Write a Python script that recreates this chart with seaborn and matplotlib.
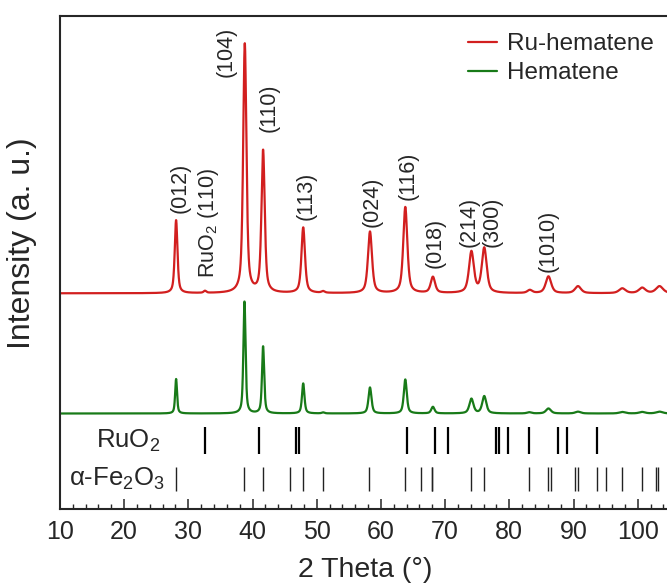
import numpy as np
import pandas as pd
import matplotlib
matplotlib.use("Agg")
import matplotlib.pyplot as plt
import seaborn as sns
from matplotlib.ticker import MultipleLocator, FixedLocator

# ---------------- data ----------------
# Ru-hematene pattern (peak centre in 2θ, height above baseline, FWHM)
ru_pos = [28.1, 32.6, 38.8, 41.65, 47.9, 51.0, 58.3, 63.8, 68.1, 74.1, 76.1,
          83.2, 86.1, 90.7, 97.6, 100.7, 103.4]
ru_height = [73, 2, 249, 142, 65.5, 1.6, 61.5, 86, 16, 41, 44.7,
             3.0, 16.8, 7.0, 4.8, 5.4, 7.0]
ru_fwhm = [0.5, 0.5, 0.6, 0.6, 0.65, 0.6, 0.75, 0.75, 0.8, 0.9, 0.9,
           0.9, 1.0, 1.1, 1.2, 1.2, 1.3]
ru_baseline = 215.7

# Hematene pattern
he_pos = [28.1, 38.75, 41.65, 47.9, 51.0, 58.3, 63.8, 68.1, 74.1, 76.1,
          83.1, 86.1, 90.7, 97.6, 100.7, 103.4]
he_height = [34.5, 112, 67, 30, 1.0, 26, 34, 6.6, 14.6, 17.2,
             1.2, 5.0, 1.8, 1.5, 1.5, 1.8]
he_fwhm = [0.35, 0.4, 0.4, 0.45, 0.5, 0.55, 0.55, 0.6, 0.75, 0.75,
           0.8, 0.9, 1.0, 1.1, 1.1, 1.2]
he_baseline = 95.5

# Reference reflections
ruo2_ref = [32.6, 41.0, 46.7, 47.2, 64.1, 68.4, 70.5, 78.0, 78.4, 79.8,
            83.1, 87.6, 89.0, 93.6]
fe2o3_ref = [28.06, 38.65, 41.56, 45.9, 47.8, 51.0, 58.1, 63.7, 66.3, 67.9,
             68.0, 74.0, 76.0, 83.1, 86.1, 86.45, 90.3, 90.65, 93.7, 95.0,
             97.6, 100.7, 102.8, 103.2]

# Peak labels (text, 2θ of label centre, label bottom)
peak_labels = ["(012)", "RuO$_2$ (110)", "(104)", "(110)", "(113)", "(024)",
               "(116)", "(018)", "(214)", "(300)", "(1010)"]
label_x = [28.8, 33.2, 35.95, 42.6, 48.3, 58.6, 64.2, 68.5, 73.7, 77.3, 86.1]
label_y = [295.7, 231, 432, 377.3, 289, 281.7, 309, 240.7, 262.3, 262.3, 237.3]

x_ticks = [10, 20, 30, 40, 50, 60, 70, 80, 90, 100]
series_names = ["Ru-hematene", "Hematene"]
series_colors = ["#d21f1f", "#187a18"]


def profile(x, pos, height, fwhm, base, eta=0.6):
    y = np.full_like(x, base, dtype=float)
    for p, h, w in zip(pos, height, fwhm):
        g = w / 2.0
        lor = g * g / ((x - p) ** 2 + g * g)
        sig = w / 2.3548
        gau = np.exp(-((x - p) ** 2) / (2 * sig * sig))
        y += h * (eta * lor + (1 - eta) * gau)
    return y


grid = np.linspace(10, 110, 5001)
df = pd.concat([
    pd.DataFrame({"two_theta": grid,
                  "intensity": profile(grid, ru_pos, ru_height, ru_fwhm, ru_baseline),
                  "sample": series_names[0]}),
    pd.DataFrame({"two_theta": grid,
                  "intensity": profile(grid, he_pos, he_height, he_fwhm, he_baseline),
                  "sample": series_names[1]}),
])

# ---------------- styling ----------------
sns.set_style("ticks")
plt.rcParams["font.family"] = ["Liberation Sans", "DejaVu Sans"]
plt.rcParams["mathtext.fontset"] = "custom"
plt.rcParams["mathtext.rm"] = "Liberation Sans"
plt.rcParams["mathtext.it"] = "Liberation Sans:italic"

fig = plt.figure(figsize=(6.67, 5.85), dpi=100)
ax = fig.add_axes([59.9 / 667, (585 - 509) / 585, 640.1 / 667, 493 / 585])

sns.lineplot(data=df, x="two_theta", y="intensity", hue="sample",
             hue_order=series_names, palette=series_colors,
             estimator=None, sort=False, linewidth=1.6, ax=ax)

ax.vlines(ruo2_ref, 55, 81.7, color="black", linewidth=1.6)
ax.vlines(fe2o3_ref, 18, 42.3, color="#222222", linewidth=1.0)
ax.text(25.6, 68, "RuO$_2$", ha="right", va="center", fontsize=18.5)
ax.text(26.4, 30, "α-Fe$_2$O$_3$", ha="right", va="center", fontsize=18.5)

for t, lx, ly in zip(peak_labels, label_x, label_y):
    ax.text(lx, ly, t, rotation=90, ha="center", va="bottom", fontsize=15.5)

ax.set_xlim(10, 10 + 640.1 / 6.42)
ax.set_ylim(0, 493)
ax.xaxis.set_major_locator(FixedLocator(x_ticks))
ax.xaxis.set_minor_locator(MultipleLocator(2))
ax.set_yticks([])
ax.tick_params(axis="x", which="major", direction="in", length=7.5, width=1.1,
               labelsize=18, pad=8)
ax.tick_params(axis="x", which="minor", direction="in", length=3.8, width=1.0)
for s in ax.spines.values():
    s.set_linewidth(1.5)

ax.set_xlabel("2 Theta (°)", fontsize=20.5)
ax.xaxis.set_label_coords((365.5 - 59.9) / 640.1, -0.097)
ax.set_ylabel("Intensity (a. u.)", fontsize=23)
ax.yaxis.set_label_coords(-0.036, (509 - 243) / 493)

handles, labels = ax.get_legend_handles_labels()
ax.legend(handles, labels, loc="upper left", bbox_to_anchor=(468 / 667, 1 - 33 / 585),
          bbox_transform=fig.transFigure, frameon=False, fontsize=17.5,
          handlelength=1.2, handletextpad=0.4, labelspacing=0.3,
          borderpad=0, borderaxespad=0)

fig.savefig("out.png", dpi=100)
